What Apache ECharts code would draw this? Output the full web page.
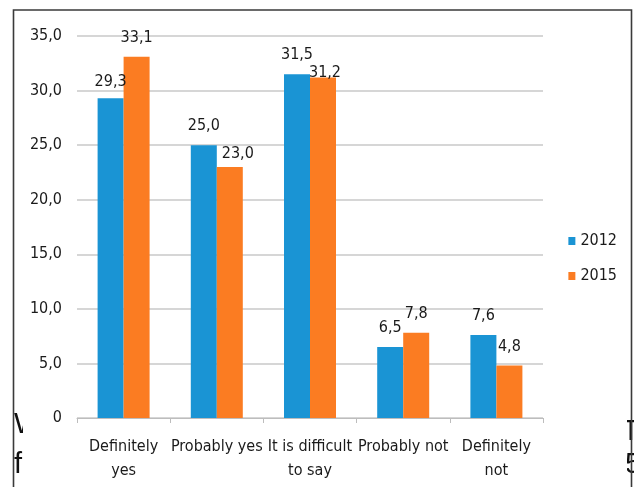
<!DOCTYPE html>
<html><head><meta charset="utf-8">
<script src="https://cdn.jsdelivr.net/npm/echarts@6/dist/echarts.min.js"></script>
<style>html,body{margin:0;padding:0;background:#fff}#c{width:634px;height:487px}</style>
</head><body><div id="c"></div>
<script>
var categories = ['Definitely\nyes', 'Probably yes', 'It is difficult\nto say', 'Probably not', 'Definitely\nnot'];
var values2012 = [29.3, 25.0, 31.5, 6.5, 7.6];
var values2015 = [33.1, 23.0, 31.2, 7.8, 4.8];
var seriesNames = ['2012', '2015'];
var yTicks = [0, 5, 10, 15, 20, 25, 30, 35];

var FONT = "'Liberation Sans Narrow','DejaVu Sans Condensed','Open Sans',sans-serif";
var DOCFONT = "'Liberation Sans',sans-serif";
function fmt(v) { return v === 0 ? '0' : v.toFixed(1).replace('.', ','); }

// label nudges reproducing the reference's collision-avoided label placement
var offsets2012 = { 0: [0, 3] };
var offsets2015 = { 1: [8, 6], 2: [2, 14] };
function withOffsets(vals, offs) {
  return vals.map(function (v, i) {
    return offs[i] ? { value: v, label: { offset: offs[i] } } : v;
  });
}

var labelCfg = { show: true, position: 'top', distance: 11, fontSize: 16, color: '#1a1a1a', fontFamily: FONT,
  formatter: function (p) { return fmt(p.value); } };

var chart = echarts.init(document.getElementById('c'));
chart.setOption({
  animation: false,
  textStyle: { fontFamily: FONT },
  graphic: [
    { type: 'text', left: 14, top: 410, z: 1, style: { text: 'W', fontSize: 29, fill: '#111', fontFamily: DOCFONT } },
    { type: 'text', left: 14, top: 450, z: 1, style: { text: 'f', fontSize: 29, fill: '#111', fontFamily: DOCFONT } },
    { type: 'rect', z: 2, shape: { x: 23, y: 405, width: 22, height: 85 }, style: { fill: '#fff' } },
    { type: 'text', left: 625, top: 450, z: 1, style: { text: '5', fontSize: 29, fill: '#111', fontFamily: DOCFONT } },
    { type: 'text', left: 622, top: 417, z: 1, style: { text: 'T', fontSize: 29, fill: '#111', fontFamily: DOCFONT } },
    { type: 'rect', z: 2, shape: { x: 600, y: 405, width: 27, height: 85 }, style: { fill: '#fff' } },
    { type: 'rect', shape: { x: 13.5, y: 10, width: 618, height: 490 }, style: { fill: 'none', stroke: '#3a3a3a', lineWidth: 1.6 }, z: 100 }
  ],
  grid: { left: 77, right: 91, top: 36, bottom: 69, containLabel: false },
  legend: {
    orient: 'vertical',
    right: 12,
    top: 228,
    itemWidth: 7,
    itemHeight: 8,
    itemGap: 19,
    icon: 'rect',
    textStyle: { fontSize: 16, color: '#1a1a1a', fontFamily: FONT, padding: [0, 0, 0, 0] },
    data: seriesNames
  },
  xAxis: {
    type: 'category',
    data: categories,
    axisLine: { lineStyle: { color: '#bdbdbd', width: 1 } },
    axisTick: { show: true, length: 5, lineStyle: { color: '#bdbdbd' } },
    axisLabel: { fontSize: 16, color: '#1a1a1a', lineHeight: 24, margin: 17, interval: 0 }
  },
  yAxis: {
    type: 'value',
    min: yTicks[0], max: yTicks[yTicks.length - 1], interval: 5,
    axisLine: { show: false },
    axisTick: { show: false },
    splitLine: { lineStyle: { color: '#c8c8c8', width: 1.5 } },
    axisLabel: { fontSize: 16, color: '#1a1a1a', margin: 15, formatter: function (v) { return fmt(v); } }
  },
  series: [
    {
      name: seriesNames[0], type: 'bar', data: withOffsets(values2012, offsets2012),
      barWidth: 26, barGap: '0%',
      itemStyle: { color: '#1a94d4' },
      label: labelCfg
    },
    {
      name: seriesNames[1], type: 'bar', data: withOffsets(values2015, offsets2015),
      barWidth: 26, barGap: '0%',
      itemStyle: { color: '#fb7c22' },
      label: labelCfg
    }
  ]
});
</script>
</body></html>
